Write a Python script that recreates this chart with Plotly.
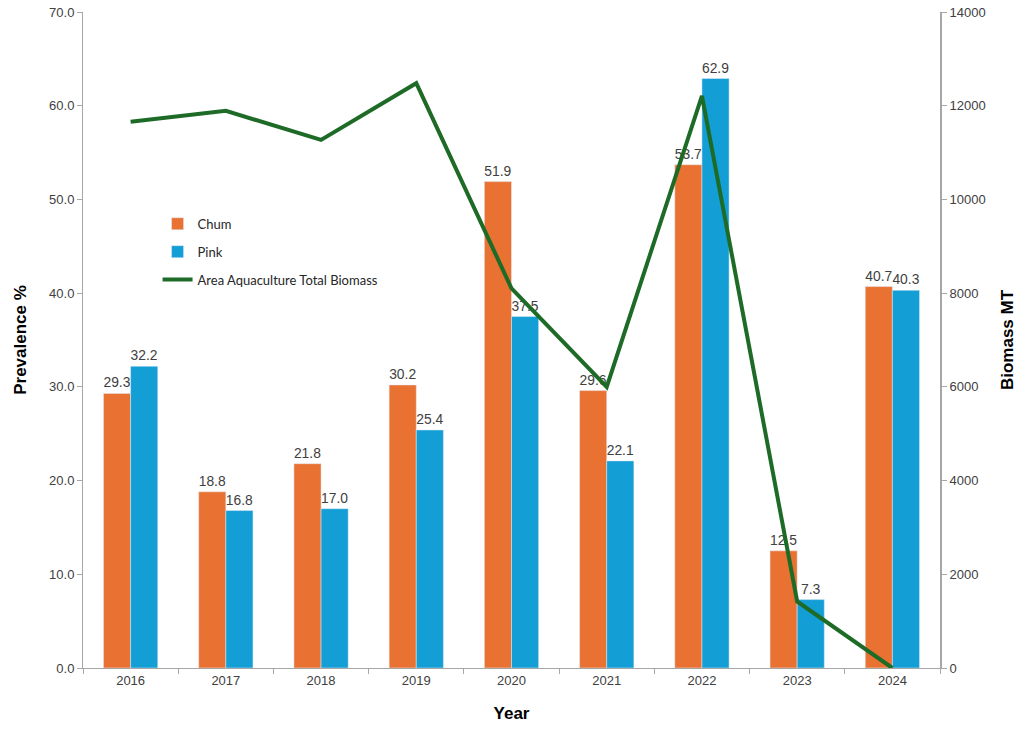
import plotly.graph_objects as go

years = ["2016", "2017", "2018", "2019", "2020", "2021", "2022", "2023", "2024"]
chum = [29.3, 18.8, 21.8, 30.2, 51.9, 29.6, 53.7, 12.5, 40.7]
pink = [32.2, 16.8, 17.0, 25.4, 37.5, 22.1, 62.9, 7.3, 40.3]
biomass = [11660, 11890, 11270, 12480, 8100, 6000, 12210, 1420, 0]

ORANGE = "#E97132"
BLUE = "#139ED6"
GREEN = "#1E6B28"
TXT = "#404040"
AX = "#A6A6A6"
TITLE_FONT = dict(size=17, color="black", family="Liberation Sans Narrow, Arial Narrow, Liberation Sans")

fig = go.Figure()
fig.add_trace(go.Bar(x=years, y=chum, name="Chum", marker_color=ORANGE, legendgroup="a",
                     text=[f"{v:.1f}" for v in chum], textposition="outside",
                     textfont=dict(color=TXT, size=14, family="Liberation Sans, Arial"),
                     cliponaxis=False))
fig.add_trace(go.Bar(x=years, y=pink, name="Pink", marker_color=BLUE, legendgroup="b",
                     text=[f"{v:.1f}" for v in pink], textposition="outside",
                     textfont=dict(color=TXT, size=14, family="Liberation Sans, Arial"),
                     cliponaxis=False))
fig.add_trace(go.Scatter(x=years, y=biomass, name="Area Aquaculture Total Biomass", legendgroup="c",
                         mode="lines", line=dict(color=GREEN, width=4), yaxis="y2",
                         cliponaxis=False))

fig.update_layout(
    width=1024, height=731,
    margin=dict(l=83, r=84, t=12, b=63),
    paper_bgcolor="white", plot_bgcolor="white",
    barmode="group", bargap=0.43, bargroupgap=0,
    font=dict(family="Liberation Sans, Arial", color=TXT, size=13),
    showlegend=True,
    legend=dict(x=0.087, y=0.70, xanchor="left", yanchor="top",
                bgcolor="rgba(0,0,0,0)", font=dict(size=13, family="Lato, Calibri", color="#262626"),
                itemwidth=30, tracegroupgap=8),
    xaxis=dict(type="category", showline=True, linecolor=AX, linewidth=1, automargin=False,
               ticks="outside", tickson="boundaries", ticklen=5, tickcolor=AX,
               showgrid=False, tickfont=dict(size=13, color=TXT),
               title=dict(text="<b>Year</b>", font=TITLE_FONT, standoff=20)),
    yaxis=dict(range=[0, 70], dtick=10, tickformat=".1f", showline=True, linecolor=AX, linewidth=1,
               ticks="outside", ticklen=5, tickcolor=AX, showgrid=False, zeroline=False,
               automargin=False, tickfont=dict(size=13, color=TXT),
               title=dict(text="<b>Prevalence %</b>", font=TITLE_FONT, standoff=18)),
    yaxis2=dict(range=[0, 14000], dtick=2000, tickformat="d", overlaying="y", side="right", showline=True,
                linecolor=AX, linewidth=2, ticks="outside", ticklen=5, tickcolor=AX, automargin=False,
                showgrid=False, zeroline=False, tickfont=dict(size=13, color=TXT),
                title=dict(text="<b>Biomass MT</b>", font=TITLE_FONT, standoff=16)),
)

# remove the default 8px page margin so the 1024x731 figure fills the window exactly
fig.write_html("out.html", config={"displayModeBar": False},
               post_script="document.body.style.margin='0';document.body.style.overflow='hidden';")
